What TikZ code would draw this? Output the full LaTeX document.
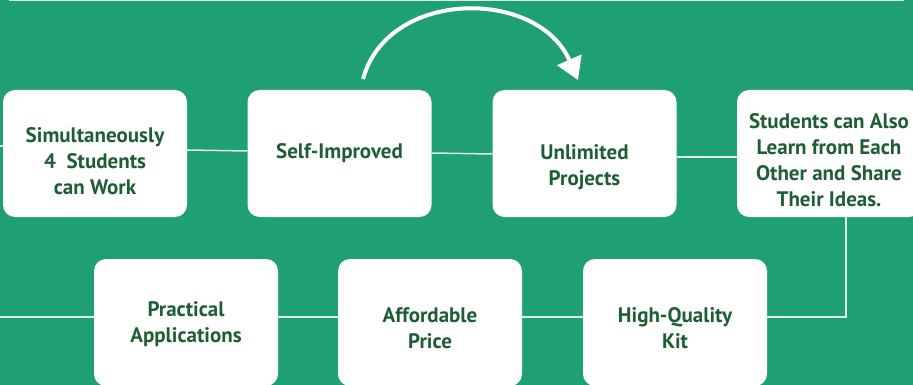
\documentclass[tikz,border=0pt]{standalone}
\usepackage{fontspec}
\setmainfont{PT Sans}
\usetikzlibrary{arrows.meta}
\definecolor{bggreen}{RGB}{30,160,114}
\definecolor{txtgreen}{RGB}{30,94,52}
\definecolor{linegrey}{RGB}{220,238,230}
\newcommand{\cardtext}[2]{\raisebox{#1}[\height][\depth]{\begin{tabular}{@{}c@{}}#2\end{tabular}}}
\begin{document}
\begin{tikzpicture}[x=1pt,y=-1pt,
        card/.style={fill=white,rounded corners=12pt,minimum width=184pt,minimum height=127pt,
            inner sep=0pt,text=txtgreen,font=\bfseries\fontsize{21}{26}\selectfont},
        link/.style={linegrey,line width=1.5pt}]
        \fill[bggreen] (0,0) rectangle (913,385);
        \useasboundingbox (0,0) rectangle (913,385);
        \draw[link] (9,0.75) -- (904,0.75);
        % top row
        \node[card] (simul) at (95,153.5) {\cardtext{-10pt}{Simultaneously\\4\ \ Students\\can Work}};
        \node[card] (selfimp) at (339.5,153.5) {\cardtext{0pt}{Self-Improved}};
        \node[card] (unlim) at (584.5,153.5) {\cardtext{-14pt}{Unlimited\\Projects}};
        \node[card] (share) at (829,153.5) {\cardtext{-8.5pt}{Students can Also\\Learn from Each\\Other and Share\\Their Ideas.}};
        % bottom row
        \node[card] (pract) at (186,322.5) {\cardtext{-2pt}{Practical\\Applications}};
        \node[card] (afford) at (430,322.5) {\cardtext{-8pt}{Affordable\\Price}};
        \node[card] (kit) at (675,322.5) {\cardtext{-8pt}{High-Quality\\Kit}};
        % connectors
        \coordinate (topin) at (0,146);
        \coordinate (botin) at (0,317);
        \draw[link] (topin) -- ([yshift=7.5pt]simul.west);
        \draw[link] ([yshift=3.5pt]simul.east) -- ([yshift=2.5pt]selfimp.west);
        \draw[link] ([yshift=0.5pt]selfimp.east) -- ([yshift=-0.5pt]unlim.west);
        \draw[link] ([yshift=-3.5pt]unlim.east) -- ([yshift=-3.5pt]share.west);
        \draw[link] (botin) -- ([yshift=5.5pt]pract.west);
        \draw[link] ([yshift=5.5pt]pract.east) -- ([yshift=5.5pt]afford.west);
        \draw[link] ([yshift=5.5pt]afford.east) -- ([yshift=5.5pt]kit.west);
        \draw[link] ([yshift=5.5pt]kit.east) -| ([xshift=17pt]share.south);
        % curved arrow
        \coordinate (arrfrom) at (363,79);
        \coordinate (arrto) at (578,80);
        \draw[white,line width=4pt,-{Triangle[width=26pt,length=22pt]}] (arrfrom) .. controls (388,-12) and (538,-12) .. (arrto);
\end{tikzpicture}
\end{document}
